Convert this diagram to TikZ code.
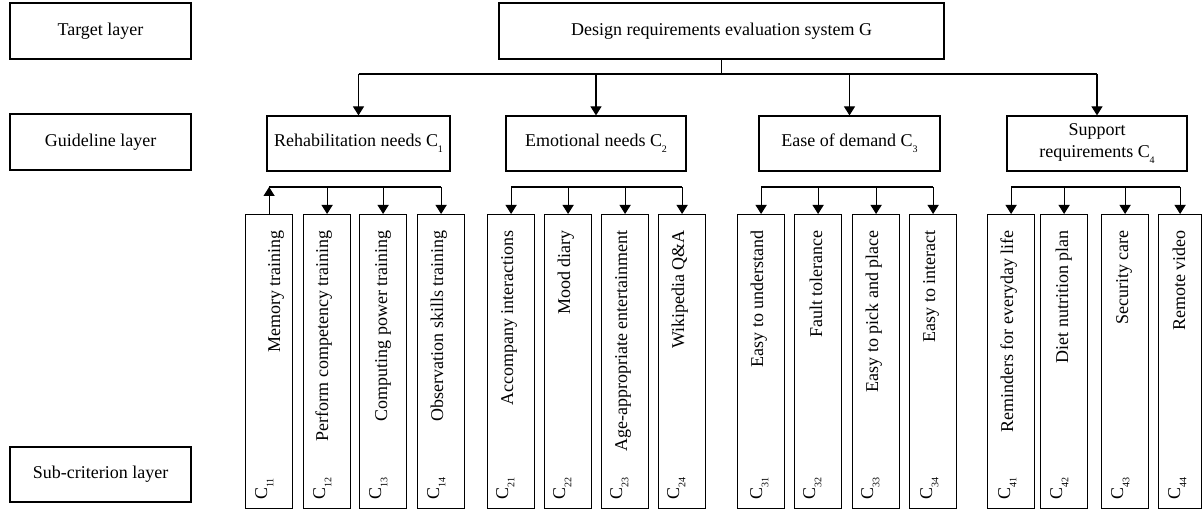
\documentclass[tikz,border=0pt]{standalone}
\usepackage{fontspec}
\setmainfont{Liberation Serif}
\usetikzlibrary{arrows.meta}
\newcommand\sbs[1]{\raisebox{-0.35em}{\fontsize{10}{10}\selectfont #1}}
\begin{document}
\begin{tikzpicture}[x=1pt,y=-1pt,
  every node/.style={font=\fontsize{18}{22}\selectfont},
  box/.style={draw, line width=1.2pt, inner sep=0pt},
  layerbox/.style={box, minimum width=181pt, minimum height=56pt},
  gbox/.style={box, minimum height=55pt, align=center},
  subbox/.style={box, minimum height=294pt},
  lbl/.style={rotate=90, anchor=base east, inner sep=0pt},
  cl/.style={rotate=90, anchor=base west, inner sep=0pt},
  conn/.style={line width=1.2pt},
  arr/.style={conn, -{Triangle[width=11pt,length=9pt]}}]
\useasboundingbox (0,0) rectangle (1202,510);
% layer labels
\node[layerbox] (Ltarget) at (100.5,31) {Target layer};
\node[layerbox] (Lguide) at (100.5,142) {Guideline layer};
\node[layerbox, minimum height=55pt] (Lsub) at (100.5,474.5) {Sub-criterion layer};
% goal
\node[box, minimum width=445pt, minimum height=56pt] (G) at (721.5,31) {Design requirements evaluation system G};
% criteria
\node[gbox, minimum width=183pt] (r1) at (358.5,143.5) {Rehabilitation needs C\sbs{1}};
\node[gbox, minimum width=180pt] (r2) at (596,143.5) {Emotional needs C\sbs{2}};
\node[gbox, minimum width=181pt] (r3) at (849.5,143.5) {Ease of demand C\sbs{3}};
\node[gbox, minimum width=180pt] (r4) at (1097,143.5) {Support\\requirements C\sbs{4}};
% main bus
\coordinate (mb) at (0,74);
\draw[conn] (G.south) -- (G.south |- mb);
\draw[conn] (r1.north |- mb) -- (r4.north |- mb);
\foreach \i in {1,2,3,4} \draw[arr] (r\i.north |- mb) -- (r\i.north);
% sub-criteria
\foreach \id/\lx/\w/\txt/\off/\co in {
  11/245/47/Memory training/35/22,
  12/303/47/Perform competency training/25/22,
  13/359/47/Computing power training/28/22,
  14/417/47/Observation skills training/26/22,
  21/487/47/Accompany interactions/26/21,
  22/544/47/Mood diary/26/21,
  23/601/47/Age-appropriate entertainment/26/21,
  24/658/47/Wikipedia Q\&A/26/21,
  31/737/47/Easy to understand/26/25,
  32/794/47/Fault tolerance/28/21,
  33/852/47/Easy to pick and place/26/21,
  34/909/47/Easy to interact/26/23,
  41/987/47/Reminders for everyday life/26/23,
  42/1040/47/Diet nutrition plan/28/22,
  43/1101/47/Security care/27/22,
  44/1158/43/Remote video/27/22}{
  \node[subbox, minimum width=\w pt, anchor=north west] (s\id) at (\lx,214) {};
  \node[lbl] (t\id) at (\lx+\off,230) {\txt};
  \node[cl] (c\id) at (\lx+\co,500) {C\sbs{\id}};
}
% sub buses
\foreach \g in {1,2,3,4}{
  \draw[conn] ([yshift=27pt]s\g1.north) -- ([yshift=27pt]s\g4.north);
}
\draw[arr] (s11.north) -- ([yshift=27pt]s11.north);
\foreach \id in {12,13,14,21,22,23,24,31,32,33,34,41,42,43,44}
  \draw[arr] ([yshift=27pt]s\id.north) -- (s\id.north);
\end{tikzpicture}
\end{document}
